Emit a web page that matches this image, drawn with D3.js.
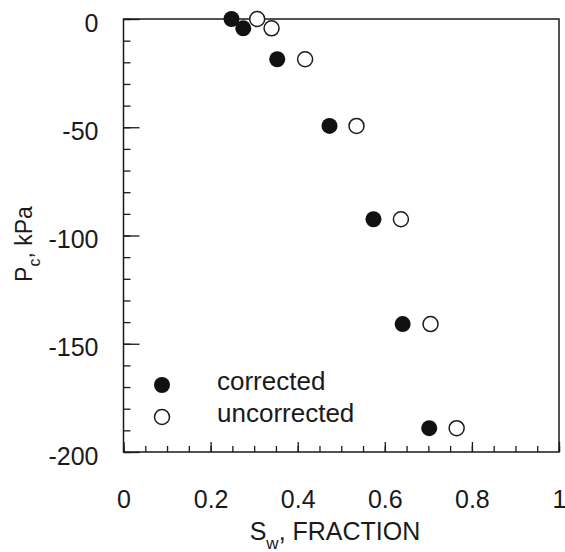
<!DOCTYPE html>
<html>
<head>
<meta charset="utf-8">
<script src="https://cdn.jsdelivr.net/npm/d3@7"></script>
<style>
	body { margin: 0; background: #fff; }
	text { font-family: "Liberation Sans", Arial, Helvetica, sans-serif; fill: #1a1a1a; }
</style>
</head>
<body>
<svg id="svg-pc"></svg>
<script>
// Water saturation (fraction) and capillary pressure (kPa)
const sw_corrected   = [0.248, 0.275, 0.353, 0.473, 0.574, 0.641, 0.702];
const sw_uncorrected = [0.307, 0.340, 0.417, 0.535, 0.637, 0.705, 0.765];
const pc_kpa         = [0, -4.3, -18.6, -49.4, -92.5, -140.9, -189];

const xTicksMajor = [0, 0.2, 0.4, 0.6, 0.8, 1];
const xTickLabels = ["0", "0.2", "0.4", "0.6", "0.8", "1"];
const yTicksMajor = [0, -50, -100, -150, -200];
const yTickLabels = ["0", "-50", "-100", "-150", "-200"];
const legendLabels = ["corrected", "uncorrected"];

const WIDTH = 565, HEIGHT = 552;
const MARGIN = {top: 19, right: 6, bottom: 100, left: 123.5};
const CHART_WIDTH = WIDTH - MARGIN.left - MARGIN.right;
const CHART_HEIGHT = HEIGHT - MARGIN.top - MARGIN.bottom;
const INK = "#1a1a1a";

const svg = d3.select("#svg-pc")
	.attr("width", WIDTH)
	.attr("height", HEIGHT);

const xScale = d3.scaleLinear().domain([0, 1]).range([0, CHART_WIDTH]);
const yScale = d3.scaleLinear().domain([-200, 0]).range([CHART_HEIGHT, 0]);

const chart = svg.append("g")
	.attr("transform", `translate(${MARGIN.left}, ${MARGIN.top})`);

// minor ticks: every 0.05 on x, every 10 kPa on y (inward)
chart.append("g")
	.attr("transform", `translate(0, ${CHART_HEIGHT})`)
	.call(d3.axisBottom(xScale).tickValues(d3.range(0, 21).map(i => i / 20)).tickSize(-6).tickFormat(""))
	.call(g => g.select(".domain").remove());

chart.append("g")
	.call(d3.axisLeft(yScale).tickValues(d3.range(0, 21).map(i => -i * 10)).tickSize(-7).tickFormat(""))
	.call(g => g.select(".domain").remove());

// X-axis, major
chart.append("g")
	.attr("transform", `translate(0, ${CHART_HEIGHT})`)
	.call(d3.axisBottom(xScale).tickValues(xTicksMajor).tickSize(-10).tickPadding(38)
		.tickFormat((d, i) => xTickLabels[i]))
	.call(g => g.select(".domain").remove())
	.call(g => g.selectAll("text").style("font-size", "25px"));

// Y-axis, major
chart.append("g")
	.call(d3.axisLeft(yScale).tickValues(yTicksMajor).tickSize(-16).tickPadding(25)
		.tickFormat((d, i) => yTickLabels[i]))
	.call(g => g.select(".domain").remove())
	.call(g => g.selectAll("text").attr("dy", "0.48em").style("font-size", "25px"));

chart.selectAll(".tick line").attr("stroke", INK).attr("stroke-width", 1.3);

// frame
chart.append("rect")
	.attr("width", CHART_WIDTH)
	.attr("height", CHART_HEIGHT)
	.attr("fill", "none")
	.attr("stroke", INK)
	.attr("stroke-width", 1.5);

// points
chart.selectAll(".pt-corr")
	.data(pc_kpa)
	.enter()
	.append("circle")
	.attr("cx", (d, i) => xScale(sw_corrected[i]))
	.attr("cy", d => yScale(d))
	.attr("r", 8)
	.attr("fill", "#111");

chart.selectAll(".pt-unc")
	.data(pc_kpa)
	.enter()
	.append("circle")
	.attr("cx", (d, i) => xScale(sw_uncorrected[i]))
	.attr("cy", d => yScale(d))
	.attr("r", 7.5)
	.attr("fill", "#fff")
	.attr("stroke", INK)
	.attr("stroke-width", 1.5);

// legend
const legend = svg.append("g").attr("transform", "translate(162, 385)");
legendLabels.forEach((label, i) => {
	legend.append("circle")
		.attr("cy", i * 32)
		.attr("r", i === 0 ? 8 : 7.5)
		.attr("fill", i === 0 ? "#111" : "#fff")
		.attr("stroke", i === 0 ? "none" : INK)
		.attr("stroke-width", 1.5);
	legend.append("text")
		.attr("x", 55)
		.attr("y", i * 32 + 5)
		.style("font-size", "26px")
		.text(label);
});

// axis titles
const xTitle = svg.append("text")
	.attr("x", 335)
	.attr("y", 540)
	.style("text-anchor", "middle")
	.style("font-size", "25px");
xTitle.append("tspan").text("S");
xTitle.append("tspan").attr("dy", 9).style("font-size", "17px").text("w");
xTitle.append("tspan").attr("dy", -9).text(", FRACTION");

const yTitle = svg.append("text")
	.attr("transform", "translate(32, 244) rotate(-90)")
	.style("text-anchor", "middle")
	.style("font-size", "23px");
yTitle.append("tspan").text("P");
yTitle.append("tspan").attr("dy", 8).style("font-size", "16px").text("c");
yTitle.append("tspan").attr("dy", -8).text(", kPa");
</script>
</body>
</html>
